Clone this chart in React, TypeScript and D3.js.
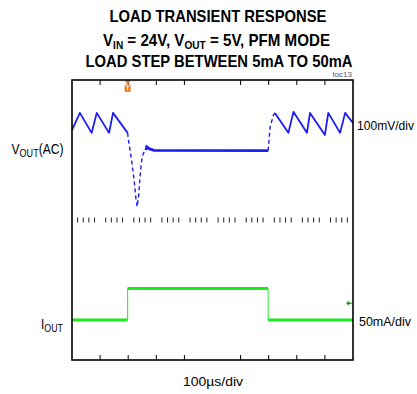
import React from 'react';
import * as d3 from 'd3';

// Scope capture: VOUT (AC, 100mV/div) and IOUT (50mA/div), 100µs/div
const timeDomain: [number, number] = [0, 1000]; // µs
const voutDomain: [number, number] = [-600, 200]; // mV
const ioutDomain: [number, number] = [-52, 348]; // mA

// VOUT trace segments [µs, mV]
const voutRippleBefore: [number, number][] = [
  [0, 57], [28, 106], [70, 49], [88, 106], [132, 49], [146, 106], [198, 49],
];
const voutDip: [number, number][] = [
  [198, 49], [200, 33], [212, -29], [221, -86], [228, -143], [232, -162],
  [237, -133], [242, -76], [248, -29], [254, -9], [263, 0],
];
const voutFlat: [number, number][] = [
  [263, 0], [266, 9], [276, 3], [292, -1], [698, -2],
];
const voutRecovery: [number, number][] = [
  [698, -2], [705, 66], [717, 100], [722, 106],
];
const voutRippleAfter: [number, number][] = [
  [722, 106], [770, 49], [788, 109], [836, 49], [847, 106], [900, 43],
  [912, 106], [954, 49], [972, 106], [1000, 77],
];

// IOUT load steps
const ioutSteps = [
  { start: 0, end: 198, mA: 5 },
  { start: 198, end: 698, mA: 50 },
  { start: 698, end: 1000, mA: 5 },
];

const frameTicks = [100, 200, 300, 400, 600, 700, 800, 900];
const triggerTime = 198;
const triggerLevel = 29; // mA

const titleLines = ['LOAD TRANSIENT RESPONSE', 'LOAD STEP BETWEEN 5mA TO 50mA'];

const BLUE = '#1c1cf5';
const GREEN = '#1ee81e';
const ORANGE = '#f07a1e';
const FONT = 'Liberation Sans, Arial, sans-serif';

export default function App() {
  const left = 72, right = 353, top = 80, bottom = 360;
  const x = d3.scaleLinear().domain(timeDomain).range([left, right]);
  const yV = d3.scaleLinear().domain(voutDomain).range([bottom, top]);
  const yI = d3.scaleLinear().domain(ioutDomain).range([bottom, top]);
  const vLine = d3.line<[number, number]>().x(d => x(d[0])).y(d => yV(d[1]));

  const midY = (top + bottom) / 2;
  const minorTicks = d3.range(0, 1000, 20).filter(t => t % 100 !== 0);

  return (
    <svg width={417} height={394} style={{ position: 'absolute', left: 0, top: 0 }} fontFamily={FONT}>
      <rect width={417} height={394} fill="#fff" />
      {/* title */}
      <text x={218} y={22} textAnchor="middle" fontWeight="bold" fontSize={16.5}
        textLength={217} lengthAdjust="spacingAndGlyphs">{titleLines[0]}</text>
      <text x={216.5} y={45.5} textAnchor="middle" fontWeight="bold" fontSize={16.5}
        textLength={227} lengthAdjust="spacingAndGlyphs">
        V<tspan fontSize={11} dy={3}>IN</tspan><tspan dy={-3}> = 24V, V</tspan>
        <tspan fontSize={11} dy={3}>OUT</tspan><tspan dy={-3}> = 5V, PFM MODE</tspan>
      </text>
      <text x={219} y={67} textAnchor="middle" fontWeight="bold" fontSize={16.5}
        textLength={267} lengthAdjust="spacingAndGlyphs">{titleLines[1]}</text>
      <text x={352} y={77} textAnchor="end" fontSize={8} fill="#555">toc13</text>

      {/* center row of minor ticks */}
      {minorTicks.map(t => (
        <line key={t} x1={x(t)} x2={x(t)} y1={midY - 2.5} y2={midY + 2.5} stroke="#222" strokeWidth={1} />
      ))}

      {/* IOUT trace */}
      {ioutSteps.map((s, i) => (
        <line key={'h' + i} x1={x(s.start)} x2={x(s.end)} y1={yI(s.mA)} y2={yI(s.mA)}
          stroke={GREEN} strokeWidth={3} />
      ))}
      {ioutSteps.slice(1).map((s, i) => (
        <line key={'v' + i} x1={x(s.start)} x2={x(s.start)} y1={yI(ioutSteps[i].mA)} y2={yI(s.mA)}
          stroke={GREEN} strokeWidth={1} />
      ))}

      {/* VOUT trace */}
      <path d={vLine(voutRippleBefore) || ''} fill="none" stroke={BLUE} strokeWidth={1.8} strokeLinejoin="round" />
      <path d={vLine(voutDip) || ''} fill="none" stroke={BLUE} strokeWidth={1.4} strokeDasharray="4,3" />
      <path d={vLine(voutFlat) || ''} fill="none" stroke={BLUE} strokeWidth={2.8} />
      <path d={vLine(voutRecovery) || ''} fill="none" stroke={BLUE} strokeWidth={1.4} strokeDasharray="4,3" />
      <path d={vLine(voutRippleAfter) || ''} fill="none" stroke={BLUE} strokeWidth={1.8} strokeLinejoin="round" />

      {/* frame and division ticks */}
      <rect x={left} y={top} width={right - left} height={bottom - top} fill="none" stroke="#000" strokeWidth={1.6} />
      {frameTicks.map(t => (
        <g key={t}>
          <line x1={x(t)} x2={x(t)} y1={top} y2={top + 5} stroke="#000" strokeWidth={1} />
          <line x1={x(t)} x2={x(t)} y1={bottom - 5} y2={bottom} stroke="#000" strokeWidth={1} />
        </g>
      ))}

      {/* trigger position marker */}
      <g transform={`translate(${x(triggerTime)},${top})`}>
        <path d="M-3,1 L3,1 L0,4 Z" fill={ORANGE} />
        <rect x={-3} y={4.5} width={6} height={7.5} rx={1.5} fill={ORANGE} />
        <path d="M-1.8,6 H1.8 M0,6 V10.5" stroke="#fff" strokeWidth={1} />
      </g>

      {/* trigger level marker */}
      <g transform={`translate(${right - 4},${yI(triggerLevel)})`}>
        <path d="M-3,0 L0,-2.5 L0,2.5 Z" fill="#1a9a1a" />
        <line x1={0} x2={2.5} y1={0} y2={0} stroke="#1a9a1a" strokeWidth={1.5} />
      </g>

      {/* channel labels */}
      <text x={11.5} y={153.5} fontSize={14} textLength={52} lengthAdjust="spacingAndGlyphs">
        V<tspan fontSize={10.5} dy={3}>OUT</tspan><tspan dy={-3}>(AC)</tspan>
      </text>
      <text x={41} y={329} fontSize={14} textLength={22} lengthAdjust="spacingAndGlyphs">
        I<tspan fontSize={10.5} dy={3}>OUT</tspan>
      </text>
      <text x={357} y={130} fontSize={13} textLength={57} lengthAdjust="spacingAndGlyphs">100mV/div</text>
      <text x={359} y={326} fontSize={13} textLength={52} lengthAdjust="spacingAndGlyphs">50mA/div</text>
      <text x={213} y={386} fontSize={13} textAnchor="middle" textLength={60} lengthAdjust="spacingAndGlyphs">100µs/div</text>
    </svg>
  );
}
